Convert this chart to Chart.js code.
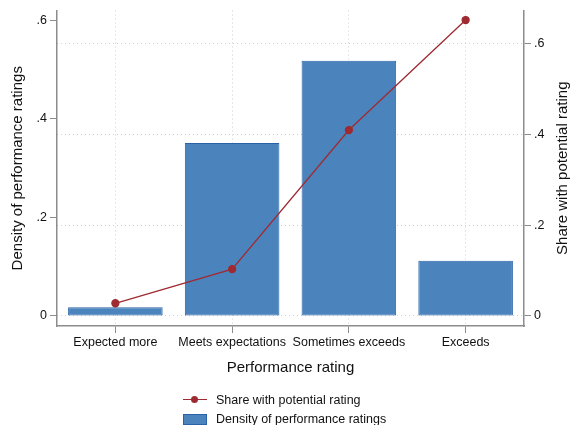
<!DOCTYPE html>
<html>
<head>
<script src="https://cdn.jsdelivr.net/npm/chart.js@4"></script>
<style>
  body { margin: 0; background: #fff; font-family: "Liberation Sans", Arial, sans-serif; }
  #wrap { position: relative; width: 571px; height: 425px; }
  #legend { position: absolute; left: 183px; top: 390px; font-size: 12.5px; color: #111; }
  .item { height: 19px; display: flex; align-items: center; }
  .sym { width: 24px; height: 10px; position: relative; margin-right: 9px; }
  .line { position: absolute; left: 0; right: 0; top: 4px; height: 1.5px; }
  .dot { position: absolute; left: 8px; top: 1px; width: 7px; height: 7px; border-radius: 50%; }
  .box { width: 22px; height: 9px; border: 1px solid; }
</style>
</head>
<body>
<div id="wrap">
  <canvas id="myChart" width="571" height="425"></canvas>
  <div id="legend"></div>
</div>
<script>
  // categories and values
  const categories = ['Expected more', 'Meets expectations', 'Sometimes exceeds', 'Exceeds']
  const densityValues = [0.018, 0.351, 0.518, 0.112]
  const shareValues = [0.028, 0.103, 0.409, 0.651]
  const tickValues = [0, 0.2, 0.4, 0.6]

  const barFill = '#4b84bd'
  const barEdge = '#2a62a8'
  const lineColor = '#9e2b32'
  const axisGray = '#8c8c8c'
  const gridGray = '#cfcfcf'

  function fmt(v) {
    if (v === 0) return '0'
    return String(+v.toFixed(1)).replace(/^0/, '')
  }
  function fixedTicks(scale) {
    scale.ticks = tickValues.map(v => ({ value: v }))
  }

  const font = { family: '"Liberation Sans", Arial, sans-serif', size: 12.5 }
  const titleFont = { family: '"Liberation Sans", Arial, sans-serif', size: 15 }
  const rightTitleText = 'Share with potential rating'

  // right axis title reads bottom to top, so draw it here
  const rightTitle = {
    id: 'rightTitle',
    afterDraw(chart) {
      const ctx = chart.ctx
      const s = chart.scales.y1
      ctx.save()
      ctx.translate(s.left + 39, (s.top + s.bottom) / 2)
      ctx.rotate(-Math.PI / 2)
      ctx.font = '15px "Liberation Sans", Arial, sans-serif'
      ctx.fillStyle = '#111'
      ctx.textAlign = 'center'
      ctx.textBaseline = 'middle'
      ctx.fillText(rightTitleText, 0, 0)
      ctx.restore()
    }
  }

  let ctx = document.getElementById('myChart').getContext('2d')
  let chart = new Chart(ctx, {
    type: 'bar',
    data: {
      labels: categories,
      datasets: [
        {
          type: 'line',
          label: 'Share with potential rating',
          data: shareValues,
          yAxisID: 'y1',
          borderColor: lineColor,
          backgroundColor: lineColor,
          borderWidth: 1.3,
          pointRadius: 3.5,
          pointHoverRadius: 3.5,
          tension: 0,
          order: 0
        },
        {
          label: 'Density of performance ratings',
          data: densityValues,
          yAxisID: 'y',
          backgroundColor: barFill,
          borderColor: barEdge,
          borderWidth: 1,
          borderSkipped: false,
          barPercentage: 0.81,
          categoryPercentage: 1,
          order: 1
        }
      ]
    },
    options: {
      responsive: false,
      animation: false,
      layout: { padding: { top: 10, bottom: 47, left: 0, right: 0 } },
      plugins: { legend: { display: false }, tooltip: { enabled: false } },
      scales: {
        x: {
          offset: true,
          grid: { offset: false, color: gridGray, tickColor: axisGray, tickLength: 7, tickWidth: 1 },
          border: { color: axisGray, width: 1.5, dash: [1, 3] },
          ticks: { font: font, color: '#111', padding: 2, maxRotation: 0, autoSkip: false },
          title: { display: true, text: 'Performance rating', font: titleFont, color: '#111', padding: { top: 4, bottom: 1 } },
          afterFit(s) { s.height = 52 }
        },
        y: {
          position: 'left',
          min: -0.0203,
          max: 0.62,
          afterBuildTicks: fixedTicks,
          grid: { drawOnChartArea: false, tickColor: axisGray, tickLength: 7, tickWidth: 1 },
          border: { color: axisGray, width: 1.5 },
          ticks: { font: font, color: '#111', padding: 3, callback: fmt },
          title: { display: true, text: 'Density of performance ratings', font: titleFont, color: '#111', padding: { top: 9, bottom: 2 } },
          afterFit(s) { s.width = 57 }
        },
        y1: {
          position: 'right',
          min: -0.022,
          max: 0.672,
          afterBuildTicks: fixedTicks,
          grid: { color: gridGray, tickColor: axisGray, tickLength: 7, tickWidth: 1 },
          border: { color: axisGray, width: 1.5, dash: [1, 3] },
          ticks: { font: font, color: '#111', padding: 3, callback: fmt },
          afterFit(s) { s.width = 47 }
        }
      }
    },
    plugins: [rightTitle]
  })

  // legend: line first, then bars, stacked as in the reference
  const legend = document.getElementById('legend')
  chart.data.datasets.forEach(ds => {
    const item = document.createElement('div')
    item.className = 'item'
    const sym = document.createElement('div')
    sym.className = 'sym'
    if (ds.type === 'line') {
      sym.innerHTML = '<div class="line" style="background:' + ds.borderColor + '"></div>' +
        '<div class="dot" style="background:' + ds.borderColor + '"></div>'
    } else {
      sym.innerHTML = '<div class="box" style="background:' + ds.backgroundColor + ';border-color:' + ds.borderColor + '"></div>'
    }
    const txt = document.createElement('span')
    txt.textContent = ds.label
    item.appendChild(sym)
    item.appendChild(txt)
    legend.appendChild(item)
  })
</script>
</body>
</html>
